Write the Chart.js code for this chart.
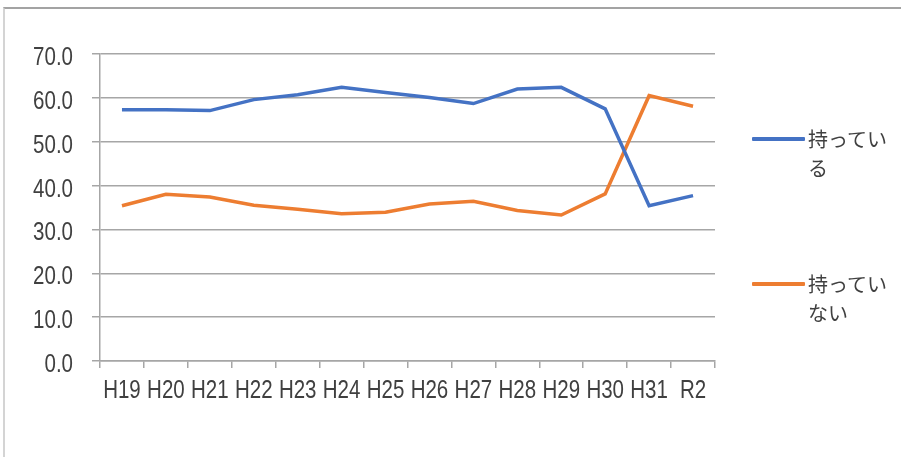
<!DOCTYPE html>
<html lang="ja">
<head>
<meta charset="utf-8">
<title>持っている / 持っていない</title>
<script src="https://cdn.jsdelivr.net/npm/chart.js@4/dist/chart.umd.min.js"></script>
<style>
  html, body { margin:0; padding:0; background:#fff; }
  #wrap { position:relative; width:901px; height:457px; overflow:hidden; }
  #frame { position:absolute; left:3px; top:7px; right:-4px; bottom:-4px;
           border-top:2px solid #a3a3a3; border-left:2px solid #d4d4d4; pointer-events:none; }
  canvas { position:absolute; left:0; top:0; }
  .lg-item { position:absolute; left:752px; }
  .lg-line { position:absolute; left:0; width:53px; height:4px; border-radius:1px; }
  .lg-text { position:absolute; left:56px; width:84px; font:20px 'Noto Sans CJK JP', sans-serif;
             line-height:29px; color:#404040; }
</style>
</head>
<body>
<div id="wrap">
  <canvas id="chart" width="901" height="457"></canvas>
  <div id="frame"></div>
  <div id="legend"></div>
</div>
<script>
const years      = ['H19','H20','H21','H22','H23','H24','H25','H26','H27','H28','H29','H30','H31','R2'];
const motteiru   = [57.3, 57.3, 57.1, 59.6, 60.7, 62.4, 61.2, 60.1, 58.7, 62.0, 62.4, 57.5, 35.4, 37.7];
const motteinai  = [35.4, 38.0, 37.4, 35.5, 34.6, 33.6, 33.9, 35.8, 36.4, 34.3, 33.3, 38.1, 60.5, 58.1];
const yTicks     = [0, 10, 20, 30, 40, 50, 60, 70];

const seriesNames  = ['持っている', '持っていない'];
const seriesColors = ['#4472c4', '#ed7d31'];
const legendY      = [139, 284];   // centre of the legend sample line

const gridColor = '#a6a6a6';
const textColor = '#404040';
const tickFamily = "'Liberation Sans', Arial, sans-serif";
const tickSize = 25, squeeze = 0.82;   // the original labels are a narrow face

// tick labels drawn at the scales' own tick positions, squeezed horizontally
const narrowTicks = {
    id: 'narrowTicks',
    afterDraw(c) {
        const ctx = c.ctx, xs = c.scales.x, ys = c.scales.y, area = c.chartArea;
        const put = (txt, x, y) => {
            ctx.save(); ctx.translate(x, y); ctx.scale(squeeze, 1);
            ctx.fillText(txt, 0, 0); ctx.restore();
        };
        ctx.save();
        ctx.fillStyle = textColor;
        ctx.font = `${tickSize}px ${tickFamily}`;
        ctx.textBaseline = 'alphabetic';
        ctx.textAlign = 'center';
        xs.ticks.forEach((t, i) => put(xs.getLabelForValue(t.value), xs.getPixelForTick(i), area.bottom + 37));
        ctx.textAlign = 'right';
        ys.ticks.forEach(t => put(Number(t.value).toFixed(1), area.left - 27, ys.getPixelForValue(t.value) + 11));
        ctx.restore();
    }
};

const chart = new Chart(document.getElementById('chart').getContext('2d'), {
    type: 'line',
    data: {
        labels: years,
        datasets: [motteiru, motteinai].map((d, i) => ({
            label: seriesNames[i], data: d,
            borderColor: seriesColors[i], backgroundColor: seriesColors[i],
            borderWidth: 3.5, pointRadius: 0, tension: 0, fill: false
        }))
    },
    options: {
        responsive:false, animation:false,
        layout: { padding: { left:0, top:54, right:186, bottom:0 } },
        plugins: { legend:{display:false}, tooltip:{enabled:false} },
        scales: {
            x: {
                offset: true,
                grid: { offset:true, drawOnChartArea:false, drawTicks:true, tickLength:7,
                        color:gridColor, lineWidth:1.5 },
                border: { display:true, color:gridColor, width:1.5 },
                ticks: { display:false, autoSkip:false, maxRotation:0 },
                afterFit: s => { s.height = 96; }
            },
            y: {
                min: 0, max: 70,
                afterBuildTicks: s => { s.ticks = yTicks.map(v => ({ value:v })); },
                grid: { color:gridColor, lineWidth:1.5, tickLength:8 },
                border: { display:true, color:gridColor, width:1.5 },
                ticks: { display:false },
                afterFit: s => { s.width = 100; }
            }
        }
    },
    plugins: [narrowTicks]
});

// legend built from the datasets
const lg = document.getElementById('legend');
chart.data.datasets.forEach((ds, i) => {
    const item = document.createElement('div'); item.className = 'lg-item';
    item.style.top = (legendY[i] - 15) + 'px';
    const ln = document.createElement('div'); ln.className = 'lg-line';
    ln.style.background = ds.borderColor; ln.style.top = '13px';
    const tx = document.createElement('div'); tx.className = 'lg-text';
    tx.style.top = '0px'; tx.textContent = ds.label;
    item.appendChild(ln); item.appendChild(tx); lg.appendChild(item);
});
</script>
</body>
</html>
